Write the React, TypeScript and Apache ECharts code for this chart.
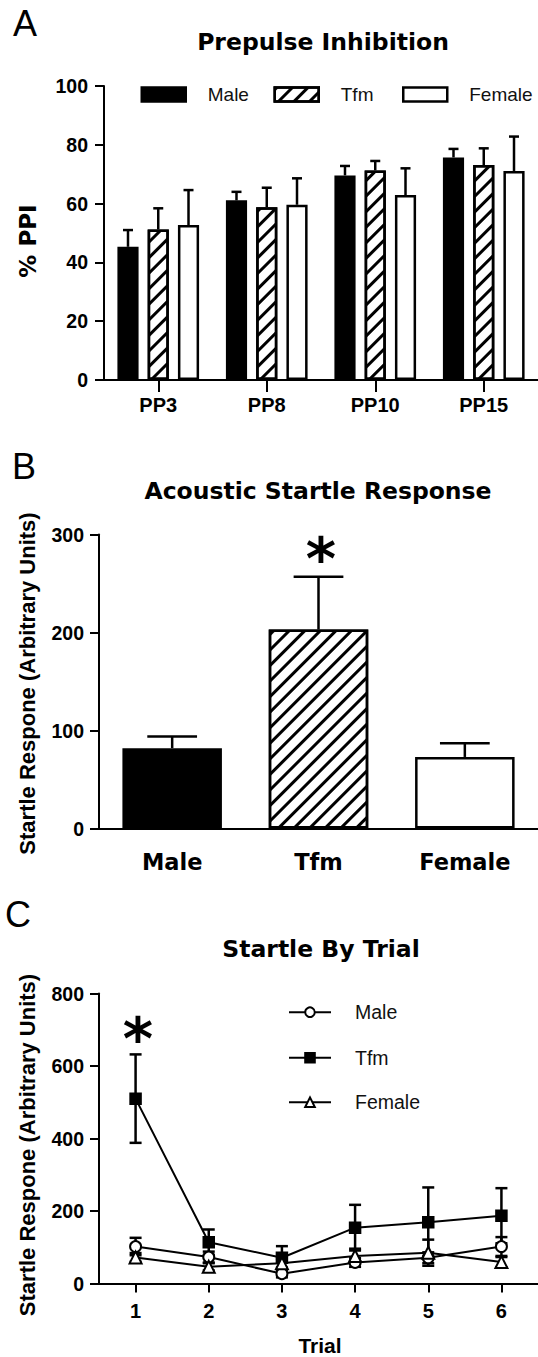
import React, { useEffect, useRef } from 'react';
import * as echarts from 'echarts';

// ---------------- Data ----------------
const groupNames = ['Male', 'Tfm', 'Female'];

// Panel A: Prepulse inhibition (% PPI), mean and SEM
const ppiCategories = ['PP3', 'PP8', 'PP10', 'PP15'];
const ppiMaleMean = [45.3, 61.1, 69.6, 75.7];
const ppiMaleSem = [5.7, 2.9, 3.2, 2.9];
const ppiTfmMean = [51.2, 58.8, 71.3, 73.1];
const ppiTfmSem = [7.2, 6.6, 3.2, 5.7];
const ppiFemaleMean = [52.7, 59.6, 62.9, 71.1];
const ppiFemaleSem = [11.9, 9.0, 9.1, 11.7];

// Panel B: Acoustic startle response
const asrCategories = ['Male', 'Tfm', 'Female'];
const asrMean = [82, 203, 73];
const asrSem = [12, 54, 14];

// Panel C: Startle by trial
const trialCategories = ['1', '2', '3', '4', '5', '6'];
const trialMaleMean = [102, 73, 27, 58, 71, 102];
const trialMaleSem = [24, 15, 10, 12, 15, 26];
const trialTfmMean = [510, 114, 71, 154, 169, 187];
const trialTfmSem = [122, 35, 32, 63, 96, 76];
const trialFemaleMean = [72, 46, 56, 76, 85, 59];
const trialFemaleSem = [12, 10, 12, 20, 36, 14];

// ---------------- Styles ----------------
const BAR_W_PCT = 19.5;
const BAR_GAP_PCT = 43;
const ARIAL = '"Liberation Sans", Arial, sans-serif';
const DEJAVU = '"DejaVu Sans", sans-serif';

const hatch = {
  symbol: 'rect',
  symbolSize: 1,
  dashArrayX: [1, 0],
  dashArrayY: [2.6, 8],
  rotation: -Math.PI / 4,
  color: '#000',
  backgroundColor: '#fff',
};

const axisLine = { show: true, lineStyle: { color: '#000', width: 2 } };
const tickStyle = { color: '#000', width: 2 };
const tickLabel = (size: number, margin: number, family = ARIAL) => ({
  margin,
  fontFamily: family,
  fontWeight: 'bold',
  fontSize: size,
  color: '#000',
});

const groupStyles = [
  { color: '#000', borderColor: '#000', borderWidth: 2.5 },
  { color: '#fff', borderColor: '#000', borderWidth: 2.5, decal: hatch },
  { color: '#fff', borderColor: '#000', borderWidth: 2.5 },
];

// legend placement (panel A horizontal row, panel C vertical column)
const legendALefts = [140.5, 273.5, 402];
const legendATop = 85;
const legendCLeft = 288;
const legendCTops = [1002.2, 1047.8, 1092.2];

function groupedErr(means: number[], sems: number[], idx: number) {
  return {
    type: 'custom',
    xAxisIndex: 0,
    yAxisIndex: 0,
    z: 3,
    silent: true,
    data: means.map((m, i) => [i, m, sems[i]]),
    encode: { x: 0, y: 1 },
    renderItem: (params: any, api: any) => {
      const ci = api.value(0);
      const m = api.value(1);
      const e = api.value(2);
      const p0 = api.coord([ci, m]);
      const p1 = api.coord([ci, m + e]);
      const band = api.size([1, 0])[0];
      const bw = (band * BAR_W_PCT) / 100;
      const gap = (bw * BAR_GAP_PCT) / 100;
      const x = p0[0] + (idx - 1) * (bw + gap);
      const cap = 10;
      const st = { stroke: '#000', lineWidth: 2.5 };
      return {
        type: 'group',
        children: [
          { type: 'line', shape: { x1: x, y1: p0[1], x2: x, y2: p1[1] }, style: st },
          { type: 'line', shape: { x1: x - cap / 2, y1: p1[1], x2: x + cap / 2, y2: p1[1] }, style: st },
        ],
      };
    },
  };
}

function trialErr(means: number[], sems: number[]) {
  return {
    type: 'custom',
    xAxisIndex: 2,
    yAxisIndex: 2,
    z: 1,
    silent: true,
    data: means.map((m, i) => [i, m, sems[i]]),
    encode: { x: 0, y: 1 },
    renderItem: (params: any, api: any) => {
      const ci = api.value(0);
      const m = api.value(1);
      const e = api.value(2);
      const hi = api.coord([ci, m + e]);
      const lo = api.coord([ci, m - e]);
      const x = hi[0];
      const cap = 12;
      const st = { stroke: '#000', lineWidth: 2.5 };
      return {
        type: 'group',
        children: [
          { type: 'line', shape: { x1: x, y1: lo[1], x2: x, y2: hi[1] }, style: st },
          { type: 'line', shape: { x1: x - cap / 2, y1: hi[1], x2: x + cap / 2, y2: hi[1] }, style: st },
          { type: 'line', shape: { x1: x - cap / 2, y1: lo[1], x2: x + cap / 2, y2: lo[1] }, style: st },
        ],
      };
    },
  };
}

const TRIAL_SUFFIX = ' (trial)';

export default function App() {
  const ref = useRef<HTMLDivElement>(null);

  useEffect(() => {
    if (!ref.current) return;
    const chart = echarts.init(ref.current, undefined, { renderer: 'svg' });

    const ppiMeans = [ppiMaleMean, ppiTfmMean, ppiFemaleMean];
    const ppiSems = [ppiMaleSem, ppiTfmSem, ppiFemaleSem];
    const trialMeans = [trialMaleMean, trialTfmMean, trialFemaleMean];
    const trialSems = [trialMaleSem, trialTfmSem, trialFemaleSem];
    const trialSymbols = ['emptyCircle', 'rect', 'emptyTriangle'];
    const trialSymbolSizes = [11, 10, 12];

    const text = (t: string, x: number, y: number, font: string, extra: any = {}) => ({
      type: 'text',
      x,
      y,
      silent: true,
      ...extra,
      style: { text: t, font, fill: '#000', align: 'center', verticalAlign: 'middle', ...(extra.style || {}) },
    });

    const legendA = groupNames.map((g, i) => ({
      data: [g],
      left: legendALefts[i],
      top: legendATop,
      padding: 0,
      icon: 'rect',
      itemWidth: 44,
      itemHeight: 14,
      selectedMode: false,
      itemStyle: { borderColor: '#000', borderWidth: 2.5 },
      textStyle: { fontFamily: ARIAL, fontSize: 19, color: '#111', padding: [0, 0, 0, 17] },
    }));
    const legendC = groupNames.map((g, i) => ({
      data: [g + TRIAL_SUFFIX],
      formatter: (n: string) => n.replace(TRIAL_SUFFIX, ''),
      left: legendCLeft,
      top: legendCTops[i],
      padding: 0,
      itemWidth: 42,
      itemHeight: 12,
      selectedMode: false,
      textStyle: { fontFamily: ARIAL, fontSize: 19.5, color: '#111', padding: [0, 0, 0, 19] },
    }));

    const option: any = {
      animation: false,
      backgroundColor: '#fff',
      grid: [
        { left: 104, top: 86, width: 436, height: 294 },
        { left: 99, top: 534.5, width: 442, height: 294 },
        { left: 99, top: 993.5, width: 442, height: 290 },
      ],
      xAxis: [
        {
          gridIndex: 0,
          type: 'category',
          data: ppiCategories,
          axisLine,
          axisTick: { show: true, alignWithLabel: true, length: 12, lineStyle: tickStyle },
          axisLabel: tickLabel(20, 15),
          splitLine: { show: false },
        },
        {
          gridIndex: 1,
          type: 'category',
          data: asrCategories,
          axisLine,
          axisTick: { show: false },
          axisLabel: tickLabel(22.5, 22, DEJAVU),
          splitLine: { show: false },
        },
        {
          gridIndex: 2,
          type: 'category',
          data: trialCategories,
          axisLine,
          axisTick: { show: true, alignWithLabel: true, length: 9, lineStyle: tickStyle },
          axisLabel: tickLabel(20, 17),
          splitLine: { show: false },
        },
      ],
      yAxis: [
        {
          gridIndex: 0,
          type: 'value',
          min: 0,
          max: 100,
          interval: 20,
          axisLine,
          axisTick: { show: true, length: 9, lineStyle: tickStyle },
          axisLabel: tickLabel(19.5, 16),
          splitLine: { show: false },
        },
        {
          gridIndex: 1,
          type: 'value',
          min: 0,
          max: 300,
          interval: 100,
          axisLine,
          axisTick: { show: true, length: 9, lineStyle: tickStyle },
          axisLabel: tickLabel(19.5, 15),
          splitLine: { show: false },
        },
        {
          gridIndex: 2,
          type: 'value',
          min: 0,
          max: 800,
          interval: 200,
          axisLine,
          axisTick: { show: true, length: 9, lineStyle: tickStyle },
          axisLabel: tickLabel(19.5, 15),
          splitLine: { show: false },
        },
      ],
      legend: [...legendA, ...legendC],
      series: [
        // Panel A bars
        ...groupNames.map((g, i) => ({
          name: g,
          type: 'bar',
          xAxisIndex: 0,
          yAxisIndex: 0,
          barWidth: BAR_W_PCT + '%',
          barGap: BAR_GAP_PCT + '%',
          data: ppiMeans[i],
          itemStyle: groupStyles[i],
          silent: true,
          z: 2,
        })),
        ...groupNames.map((g, i) => groupedErr(ppiMeans[i], ppiSems[i], i)),
        // Panel B bars
        {
          name: 'Startle',
          type: 'bar',
          xAxisIndex: 1,
          yAxisIndex: 1,
          barWidth: '68%',
          silent: true,
          data: asrMean.map((v, i) => ({ value: v, itemStyle: groupStyles[i] })),
          z: 2,
        },
        {
          type: 'custom',
          xAxisIndex: 1,
          yAxisIndex: 1,
          z: 3,
          silent: true,
          data: asrMean.map((m, i) => [i, m, asrSem[i]]),
          encode: { x: 0, y: 1 },
          renderItem: (params: any, api: any) => {
            const ci = api.value(0);
            const m = api.value(1);
            const e = api.value(2);
            const p0 = api.coord([ci, m]);
            const p1 = api.coord([ci, m + e]);
            const cap = api.size([1, 0])[0] * 0.68 * 0.5;
            const st = { stroke: '#000', lineWidth: 2.5 };
            return {
              type: 'group',
              children: [
                { type: 'line', shape: { x1: p0[0], y1: p0[1], x2: p0[0], y2: p1[1] }, style: st },
                { type: 'line', shape: { x1: p0[0] - cap / 2, y1: p1[1], x2: p0[0] + cap / 2, y2: p1[1] }, style: st },
              ],
            };
          },
        },
        // Panel C error bars + lines
        ...groupNames.map((g, i) => trialErr(trialMeans[i], trialSems[i])),
        ...groupNames.map((g, i) => ({
          name: g + TRIAL_SUFFIX,
          type: 'line',
          xAxisIndex: 2,
          yAxisIndex: 2,
          data: trialMeans[i],
          symbol: trialSymbols[i],
          symbolSize: trialSymbolSizes[i],
          showAllSymbol: true,
          silent: true,
          lineStyle: { color: '#000', width: 2 },
          itemStyle: { color: '#000', borderColor: '#000', borderWidth: 2.5 },
          z: 2,
        })),
      ],
      graphic: [
        text('A', 13, 23.5, `normal 36px ${ARIAL}`, { style: { align: 'left' } }),
        text('B', 12, 466, `normal 36px ${ARIAL}`, { style: { align: 'left' } }),
        text('C', 5, 914, `normal 36px ${ARIAL}`, { style: { align: 'left' } }),
        text('Prepulse Inhibition', 323, 41.5, `bold 23.5px ${DEJAVU}`),
        text('Acoustic Startle Response', 318, 491, `bold 23.5px ${DEJAVU}`),
        text('Startle By Trial', 321, 949, `bold 23.5px ${DEJAVU}`),
        text('% PPI', 27.5, 241, `bold 23px ${DEJAVU}`, { rotation: Math.PI / 2 }),
        text('Startle Respone (Arbitrary Units)', 27.5, 683.5, `bold 22px ${ARIAL}`, { rotation: Math.PI / 2 }),
        text('Startle Respone (Arbitrary Units)', 27.5, 1145, `bold 22px ${ARIAL}`, { rotation: Math.PI / 2 }),
        text('Trial', 320, 1345.5, `bold 21px ${ARIAL}`),
        text('*', 321, 559, `bold 58px ${DEJAVU}`),
        text('*', 138, 1039, `bold 58px ${DEJAVU}`),
      ],
    };

    chart.setOption(option);
    return () => chart.dispose();
  }, []);

  return (
    <div
      ref={ref}
      style={{ position: 'absolute', left: 0, top: 0, width: 538, height: 1357, background: '#fff' }}
    />
  );
}
